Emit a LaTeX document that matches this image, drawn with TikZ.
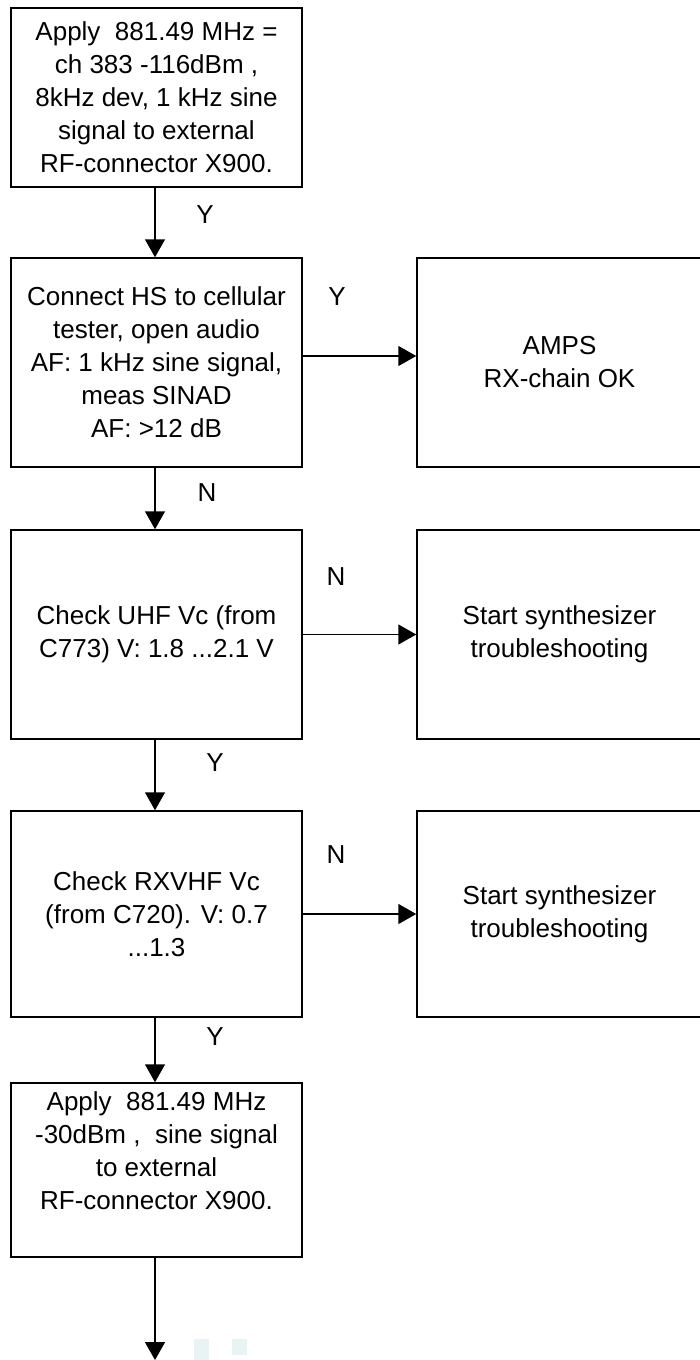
\documentclass[tikz,border=0pt]{standalone}
\usepackage{fontspec}
\setmainfont{Liberation Sans}
\usetikzlibrary{arrows.meta}
\definecolor{speckcol}{RGB}{232,243,243}
\begin{document}
\begin{tikzpicture}[x=0.5pt,y=-0.5pt,
  box/.style={draw, line width=0.75pt, minimum width=145.5pt, align=center,
    font=\fontsize{13}{16.5}\selectfont, inner sep=0pt},
  rbox/.style={box, minimum width=142.5pt},
  txt/.style={align=center, font=\fontsize{13}{16.5}\selectfont, inner sep=0pt},
  arr/.style={line width=0.75pt, -{Triangle[length=9pt,width=10pt]}},
  lab/.style={font=\fontsize{13}{16}\selectfont, inner sep=0pt},
  speck/.style={fill=speckcol, draw=none}]
\useasboundingbox (0,0) rectangle (700,1360);

\node[box, minimum height=89.5pt] (b1) at (156.5,97.5)
  {Apply~ 881.49 MHz =\\ch 383 -116dBm ,\\8kHz dev, 1 kHz sine\\signal to external\\RF-connector X900.};
\node[box, minimum height=104.5pt] (b2) at (156.5,362.5)
  {Connect HS to cellular\\tester, open audio\\AF: 1 kHz sine signal,\\meas SINAD\\AF: >12 dB};
\node[rbox, minimum height=104.5pt] (r2) at (559.5,362.5)
  {AMPS\\RX-chain OK};
\node[box, minimum height=104.5pt] (b3) at (156.5,634.5)
  {Check UHF Vc (from\\C773) V: 1.8 ...2.1 V};
\node[rbox, minimum height=104.5pt] (r3) at (559.5,634.5)
  {Start synthesizer\\troubleshooting};
\node[box, minimum height=103pt] (b4) at (156.5,914)
  {Check RXVHF Vc\\(from C720). V: 0.7\\...1.3};
\node[rbox, minimum height=103pt] (r4) at (559.5,914)
  {Start synthesizer\\troubleshooting};
\node[box, minimum height=87pt] (b5) at (156.5,1170) {};
\node[txt] (b5t) at (156.5,1151)
  {Apply~ 881.49 MHz\\-30dBm ,~ sine signal\\to external\\RF-connector X900.};
\coordinate (end) at (155,1360);

\draw[arr] (b1.south -| 155,0) -- (b2.north -| 155,0);
\draw[arr] ([yshift=3.25pt]b2.east) -- ([yshift=3.25pt]r2.west);
\draw[arr] (b2.south -| 155,0) -- (b3.north -| 155,0);
\draw[arr] (b3.east) -- (r3.west);
\draw[arr] (b3.south -| 155,0) -- (b4.north -| 155,0);
\draw[arr] (b4.east) -- (r4.west);
\draw[arr] (b4.south -| 155,0) -- (b5.north -| 155,0);
\draw[arr] (b5.south -| 155,0) -- (end);

\node[lab] (l1) at (205,215) {Y};
\node[lab] (l2) at (337,297) {Y};
\node[lab] (l3) at (207,493) {N};
\node[lab] (l4) at (336,577) {N};
\node[lab] (l5) at (215,763) {Y};
\node[lab] (l6) at (336,855) {N};
\node[lab] (l7) at (215,1037) {Y};

\fill[speck] (194,1339) rectangle (209,1360);
\fill[speck] (232,1339) rectangle (247,1355);
\end{tikzpicture}
\end{document}
